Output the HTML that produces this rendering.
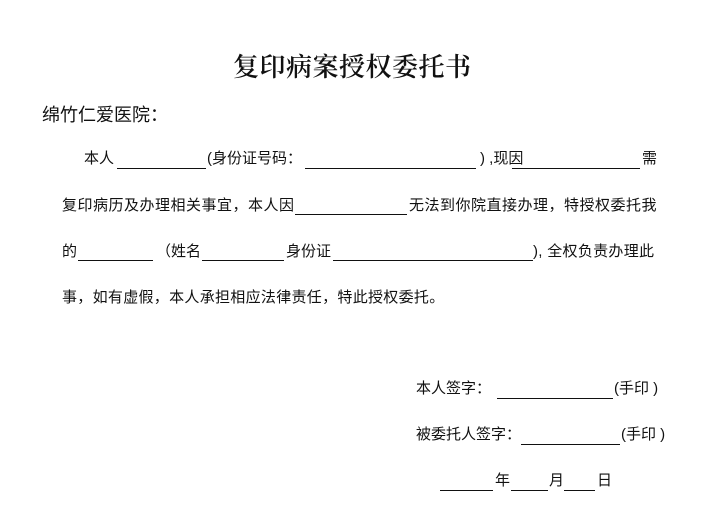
<!DOCTYPE html>
<html><head><meta charset="utf-8"><style>
body{margin:0;width:712px;height:528px;background:#fff;position:relative;overflow:hidden;font-family:"Liberation Sans","Noto Sans CJK SC",sans-serif;color:#111}
.t{position:absolute;font-size:15px;line-height:18px;white-space:nowrap}
.l{position:absolute;height:1px;background:#111}
</style></head><body>
<div class="t" style="left:233px;top:50px;font-size:26px;line-height:32px;font-family:'Noto Serif CJK SC','Liberation Serif',serif;font-weight:600;letter-spacing:0.5px">复印病案授权委托书</div>
<div class="t" style="left:42px;top:104px;font-size:18px;line-height:22px">绵竹仁爱医院：</div>

<div class="t" style="left:84px;top:150px">本人</div>
<div class="l" style="left:117px;top:168px;width:89px"></div>
<div class="t" style="left:207px;top:150px">(身份证号码：</div>
<div class="l" style="left:305px;top:168px;width:171px"></div>
<div class="t" style="left:480px;top:150px">) ,现因</div>
<div class="l" style="left:512px;top:168px;width:128px"></div>
<div class="t" style="left:642px;top:150px">需</div>

<div class="t" style="left:62px;top:197px;letter-spacing:0.5px">复印病历及办理相关事宜，本人因</div>
<div class="l" style="left:295px;top:214px;width:112px"></div>
<div class="t" style="left:409px;top:197px;letter-spacing:0.5px">无法到你院直接办理，特授权委托我</div>

<div class="t" style="left:62px;top:243px">的</div>
<div class="l" style="left:78px;top:260px;width:75px"></div>
<div class="t" style="left:156px;top:243px">（姓名</div>
<div class="l" style="left:202px;top:260px;width:82px"></div>
<div class="t" style="left:286px;top:243px">身份证</div>
<div class="l" style="left:333px;top:260px;width:200px"></div>
<div class="t" style="left:533px;top:243px;letter-spacing:0.3px">), 全权负责办理此</div>

<div class="t" style="left:62px;top:289px;letter-spacing:0.3px">事，如有虚假，本人承担相应法律责任，特此授权委托。</div>

<div class="t" style="left:416px;top:380px">本人签字：</div>
<div class="l" style="left:497px;top:398px;width:116px"></div>
<div class="t" style="left:614px;top:380px">(手印 )</div>

<div class="t" style="left:416px;top:426px">被委托人签字：</div>
<div class="l" style="left:521px;top:444px;width:99px"></div>
<div class="t" style="left:621px;top:426px">(手印 )</div>

<div class="l" style="left:440px;top:490px;width:53px"></div>
<div class="t" style="left:495px;top:472px">年</div>
<div class="l" style="left:511px;top:490px;width:37px"></div>
<div class="t" style="left:549px;top:472px">月</div>
<div class="l" style="left:564px;top:490px;width:31px"></div>
<div class="t" style="left:597px;top:472px">日</div>
</body></html>
